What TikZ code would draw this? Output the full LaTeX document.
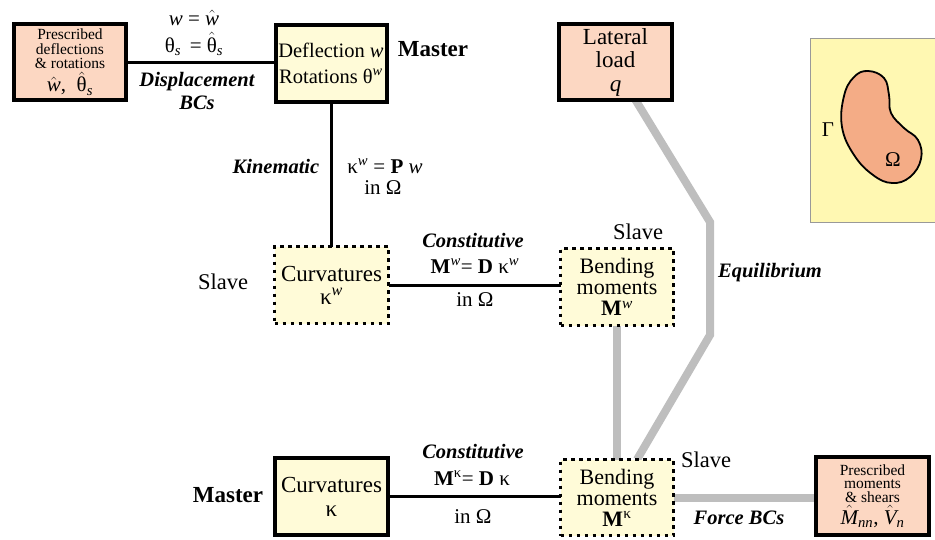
\documentclass[tikz,border=0pt]{standalone}
\usepackage{fontspec}
\setmainfont{Liberation Serif}
\usetikzlibrary{calc,backgrounds}
\newcommand\sz[2]{\fontsize{#1}{#2}\selectfont}
\newcommand\hatit[1]{\ensuremath{\hat{\mbox{#1}}}}
\definecolor{peach}{HTML}{FCD7C2}
\definecolor{cream}{HTML}{FFFBD8}
\definecolor{panel}{HTML}{FFF8B2}
\definecolor{blob}{HTML}{F4AC86}
\definecolor{gline}{HTML}{BEBEBE}
\tikzset{
  every node/.style={inner sep=0pt,outer sep=0pt},
  solidbox/.style={draw=black,line width=4pt,rectangle,align=center},
  dotbox/.style={draw=black,line width=3.5pt,dash pattern=on 3.8pt off 4.2pt,rectangle,align=center,fill=cream},
  blk/.style={draw=black,line width=3pt},
  gry/.style={draw=gline,line width=8pt},
  lbl/.style={font=\sz{22.5}{24}},
  bilbl/.style={font=\sz{20.5}{23}\bfseries\itshape,align=center},
  eqlbl/.style={font=\sz{21}{23},align=center}
}
\begin{document}
\begin{tikzpicture}[x=1pt,y=-1pt]
\useasboundingbox (0,0) rectangle (935,539);
% right panel
\fill[panel,draw=gray!80,line width=1pt] (810,38) rectangle (940,222);
\draw[fill=blob,line width=1.8pt] plot[smooth cycle,tension=0.7] coordinates {(868,71) (884,78) (889,95) (891,113) (904,128) (918,140) (921,159) (910,177) (892,183) (873,175) (854,155) (842,127) (844,96) (854,77)};
\node[font=\sz{21}{21}] (gam) at (828,130) {Γ};
\node[font=\sz{21}{21}] (om) at (893,160) {Ω};

% boxes
\node[solidbox,fill=peach,minimum width=112pt,minimum height=76pt,font=\sz{15.5}{14.5}] (pd) at (70,62)
  {Prescribed\\deflections\\\& rotations\\[2pt]\sz{21}{21}\hatit{\itshape w},\ \ \hatit{θ}\textsubscript{\itshape s}};
\node[solidbox,fill=cream,minimum width=111pt,minimum height=77pt,font=\sz{20.5}{26}] (defl) at (331,63)
  {Deflection \textit{w}\\Rotations θ\textsuperscript{\itshape w}};
\node[solidbox,fill=peach,minimum width=113pt,minimum height=76pt,font=\sz{23}{23.5}] (lat) at (615.5,62)
  {Lateral\\load\\\textit{q}};
\node[dotbox,minimum width=114pt,minimum height=77pt,font=\sz{23}{23}] (cw) at (331.5,285)
  {Curvatures\\κ\textsuperscript{\itshape w}};
\node[dotbox,minimum width=113pt,minimum height=77pt,font=\sz{22}{21}] (mw) at (617,287)
  {Bending\\moments\\\textbf{M}\textsuperscript{\itshape w}};
\node[solidbox,fill=cream,minimum width=113pt,minimum height=77pt,font=\sz{23}{24}] (ck) at (331.5,496.5)
  {Curvatures\\κ};
\node[dotbox,minimum width=113pt,minimum height=76pt,font=\sz{22}{21}] (mk) at (617,497.5)
  {Bending\\moments\\\textbf{M}\textsuperscript{κ}};
\node[solidbox,fill=peach,minimum width=113pt,minimum height=78pt,font=\sz{15.5}{13.5}] (pm) at (872.5,496)
  {Prescribed\\moments\\\& shears\\[2pt]\sz{21}{21}\hatit{\itshape M}\textsubscript{\itshape nn}, \hatit{\itshape V}\textsubscript{\itshape n}};

% connectors
\coordinate (e1) at (710,222);
\coordinate (e2) at (710,335);
\begin{scope}[on background layer]
\draw[gry,line join=miter] ($(lat.south)+(20,0)$) -- (e1) -- (e2) -- ($(mk.north)+(20,0)$);
\draw[gry] (mw.south) -- (mk.north);
\draw[gry] (mk.east) -- (mk.east -| pm.west);
\draw[blk] (pd.east) -- (pd.east -| defl.west);
\draw[blk] (defl.south) -- (cw.north -| defl.south);
\draw[blk] (cw.east) -- (cw.east -| mw.west);
\draw[blk] (ck.east) -- (ck.east -| mk.west);
\end{scope}

% labels
\node[eqlbl,font=\sz{21}{27}] (bc) at (194,33) {\textit{w} = \hatit{\itshape w}\\θ\textsubscript{\itshape s} \,= \hatit{θ}\textsubscript{\itshape s}};
\node[bilbl] (dbc) at (197,91) {Displacement\\BCs};
\node[font=\sz{23}{23}\bfseries] (m1) at (433,49) {Master};
\node[bilbl] (kin) at (276,166) {Kinematic};
\node[eqlbl] (kw) at (385,166) {κ\textsuperscript{\itshape w} = \textbf{P} \textit{w}};
\node[eqlbl] (io1) at (383,188) {in Ω};
\node[lbl] (s1) at (223,282) {Slave};
\node[bilbl] (c1) at (473,241) {Constitutive};
\node[eqlbl] (mwd) at (475,266) {\textbf{M}\textsuperscript{\itshape w}= \textbf{D} κ\textsuperscript{\itshape w}};
\node[eqlbl] (io2) at (475,300) {in Ω};
\node[lbl] (s2) at (638,232) {Slave};
\node[bilbl] (eq) at (770,273) {Equilibrium};
\node[font=\sz{23}{23}\bfseries] (m2) at (228,495) {Master};
\node[bilbl] (c2) at (473,451) {Constitutive};
\node[eqlbl] (mkd) at (472,478) {\textbf{M}\textsuperscript{κ}= \textbf{D} κ};
\node[eqlbl] (io3) at (473,517) {in Ω};
\node[lbl] (s3) at (706,460) {Slave};
\node[bilbl] (fbc) at (739,518) {Force BCs};
\end{tikzpicture}
\end{document}
